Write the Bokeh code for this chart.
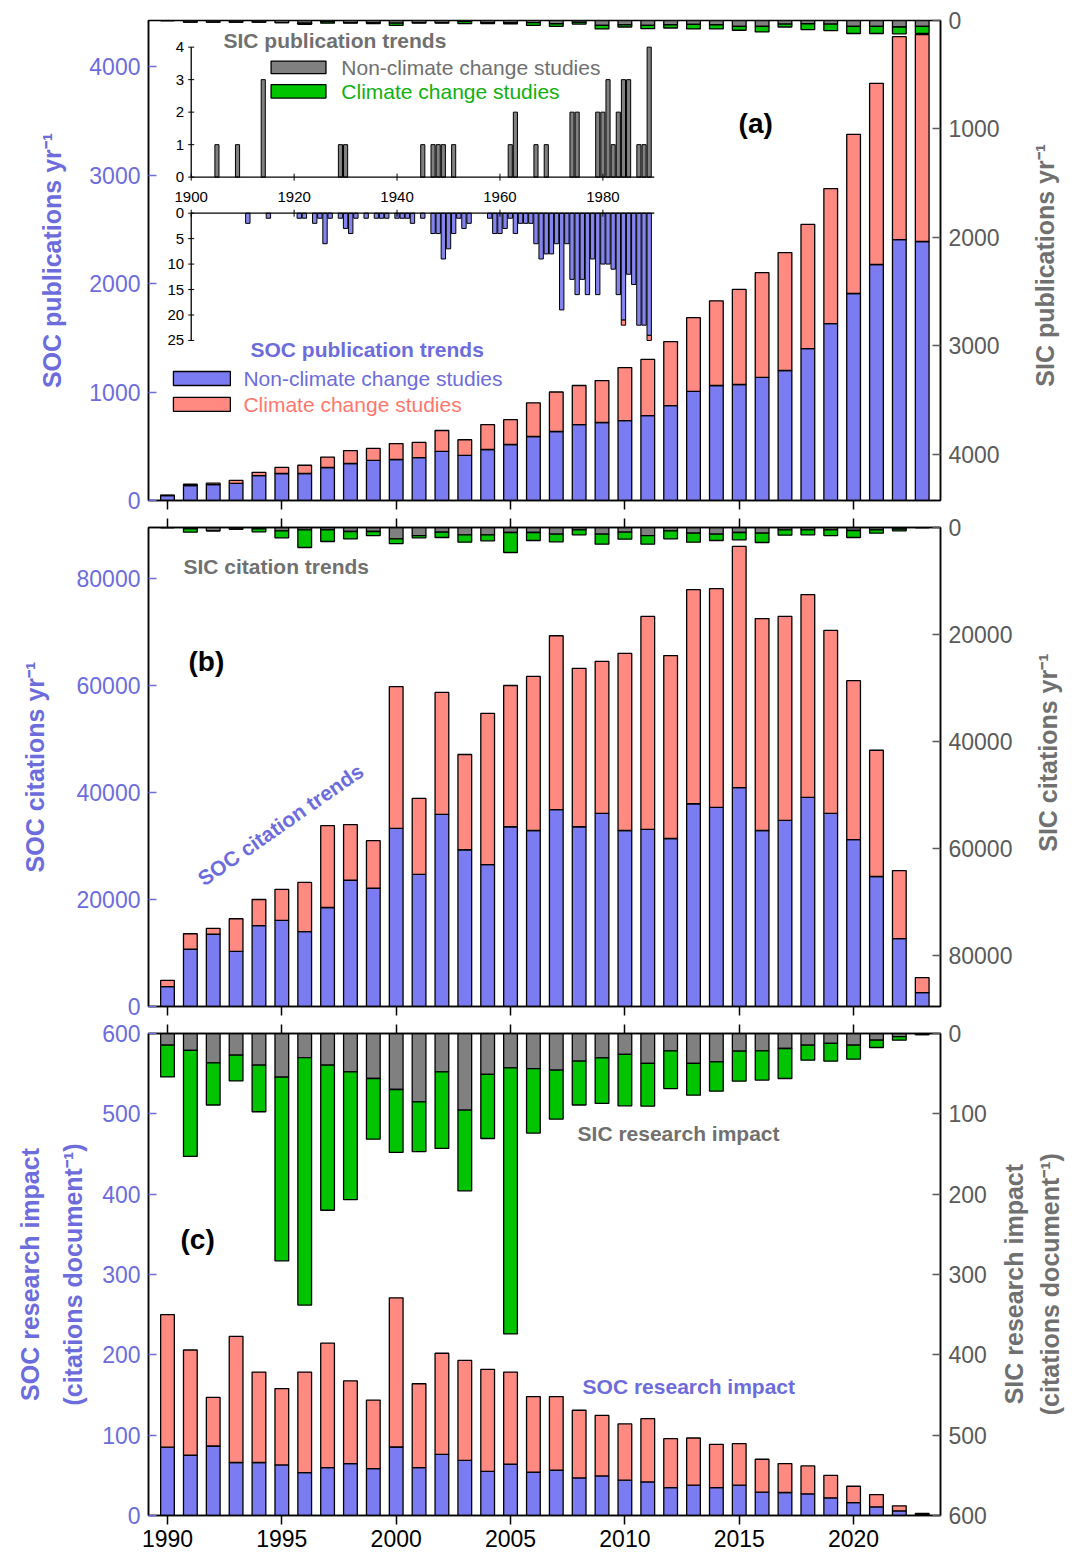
import math
from bokeh.plotting import figure
from bokeh.models import Range1d, LinearAxis, FixedTicker, Label
from bokeh.layouts import column, row
from bokeh.embed import file_html
from bokeh.resources import INLINE

FONT = "Liberation Sans"
BLUE = "#7b7bf2"
SALMON = "#ff8a82"
GRAY = "#808080"
GREEN = "#00c400"
BLUE_TXT = "#6c6cdc"
SALMON_TXT = "#ff776c"
GRAY_TXT = "#707070"
GREEN_TXT = "#10b010"
RTICK = "#5a5a5a"

# ---------------- data ----------------
years = list(range(1990, 2024))
xticks = [1990, 1995, 2000, 2005, 2010, 2015, 2020]

# (a) publications per year
soc_pub_non = [46, 138, 147, 157, 230, 249, 249, 304, 341, 369, 378, 396, 452, 415, 470, 516, 590, 636, 700, 719,
               737, 783, 875, 1005, 1060, 1069, 1134, 1198, 1400, 1631, 1908, 2175, 2405, 2387]
soc_pub_cc = [4, 12, 13, 28, 30, 56, 76, 96, 119, 111, 147, 139, 193, 145, 230, 229, 310, 364, 360, 386,
              488, 517, 590, 680, 780, 876, 966, 1087, 1145, 1244, 1467, 1670, 1870, 1908]
sic_pub_non = [0, 15, 15, 15, 15, 20, 25, 10, 20, 20, 25, 20, 20, 10, 20, 20, 20, 30, 18, 45,
               39, 45, 39, 36, 39, 54, 54, 33, 30, 33, 54, 54, 60, 54]
sic_pub_cc = [0, 0, 0, 0, 0, 0, 10, 15, 5, 8, 20, 3, 3, 18, 8, 12, 25, 24, 15, 33,
              21, 30, 30, 42, 39, 36, 51, 27, 54, 60, 66, 66, 63, 66]

# (b) citations per year
soc_cit_non = [3700, 10700, 13500, 10300, 15100, 16100, 14000, 18500, 23600, 22100, 33300, 24700, 35900, 29300,
               26500, 33600, 32900, 36800, 33600, 36100, 32900, 33100, 31400, 37900, 37200, 40900, 32900, 34800,
               39100, 36100, 31200, 24300, 12700, 2600]
soc_cit_cc = [1200, 2900, 1100, 6100, 4900, 5800, 9200, 15300, 10400, 8900, 26500, 14200, 22800, 17800,
              28300, 26400, 28800, 32500, 29600, 28400, 33100, 39800, 34200, 40000, 40900, 45100, 39600, 38100,
              37900, 34200, 29700, 23600, 12700, 2800]
sic_cit_non = [0, 250, 620, 310, 250, 620, 440, 440, 750, 750, 2120, 1500, 870, 1370, 1370, 930, 930, 1250,
               440, 1250, 870, 1500, 620, 1060, 1250, 930, 1060, 440, 440, 440, 560, 440, 310, 0]
sic_cit_cc = [0, 620, 0, 0, 560, 1310, 3300, 2180, 1370, 750, 880, 430, 1000, 1370, 1120, 3740, 1500, 1430,
              930, 1870, 1310, 1620, 1500, 1680, 1180, 1370, 1740, 990, 930, 1060, 1310, 620, 310, 0]

# (c) research impact (citations per document)
soc_imp_non = [85, 75, 86.5, 66, 66, 63, 53.4, 59.6, 64.6, 58.4, 85.3, 59.6, 76.2, 68.7, 55, 64, 54, 56.3,
               46.8, 49.3, 44, 41.8, 34.8, 37.7, 34.8, 37.7, 29, 28.6, 27, 22, 16, 10.8, 5.8, 1.5]
soc_imp_cc = [165, 131, 60.5, 157, 112.5, 95, 125.1, 154.9, 103.1, 85.3, 185.7, 104.4, 125.8, 124.3, 127,
              114.5, 94, 91.7, 84.2, 75.3, 70, 78.7, 60.8, 58.8, 53.8, 51.7, 41, 36, 34.7, 28, 20.4, 15.2, 6.2, 1.0]
sic_imp_non = [14.5, 21, 36.5, 27, 39.4, 54.4, 30, 39.4, 47.7, 56, 69.7, 85, 47.7, 95.4, 51, 42.7, 43.6, 45.6,
               34.4, 30.3, 26, 37.3, 21.6, 37.3, 35.3, 22, 21.6, 18.7, 14.5, 12.4, 14.5, 8.3, 4, 1.5]
sic_imp_cc = [39.5, 132, 52.5, 32, 58, 228.6, 308, 180.6, 159, 75.5, 78.3, 62, 95.3, 100.6, 79.7, 331.3, 80.4,
              61, 54.6, 56.7, 64, 53.2, 46.9, 39.5, 36.5, 37.3, 36.4, 37.3, 18.7, 22, 17.5, 9.1, 4.3, 0]

# inset: publications before 1990
inset_sic_years = [1905, 1909, 1914, 1929, 1930, 1945, 1947, 1948, 1949, 1951, 1962, 1963, 1967, 1969, 1974,
                   1975, 1979, 1980, 1981, 1982, 1983, 1984, 1985, 1987, 1988, 1989]
inset_sic_pubs = [1, 1, 3, 1, 1, 1, 1, 1, 1, 1, 1, 2, 1, 1, 2, 2, 2, 2, 3, 1, 2, 3, 3, 1, 1, 4]
inset_soc_years = [1911, 1915, 1921, 1922, 1924, 1925, 1926, 1927, 1929, 1930, 1931, 1932, 1934, 1936, 1937,
                   1938, 1940, 1941, 1942, 1943, 1945, 1947, 1948, 1949, 1950, 1951, 1952, 1953, 1954, 1958,
                   1959, 1960, 1961, 1962, 1963, 1964, 1965, 1966, 1967, 1968, 1969, 1970, 1971, 1972, 1973,
                   1974, 1975, 1976, 1977, 1978, 1979, 1980, 1981, 1982, 1983, 1984, 1985, 1986, 1987, 1988, 1989]
inset_soc_non = [2, 1, 1, 1, 2, 1, 6, 1, 1, 3, 4, 1, 1, 1, 1, 1, 1, 1, 1, 2, 1, 4, 4, 9, 7, 4, 1, 3, 2, 1,
                 4, 4, 3, 1, 4, 2, 2, 2, 6, 9, 8, 8, 6, 19, 6, 13, 16, 13, 16, 9, 16, 10, 10, 11, 16, 21, 12,
                 14, 22, 22, 24]
inset_soc_cc_years = [1984, 1989]
inset_soc_cc = [1, 1]
inset_xticks = [1900, 1920, 1940, 1960, 1980]
inset_xlim = [1900, 1990]
inset_top_yticks = [0, 1, 2, 3, 4]
inset_bot_yticks = [0, 5, 10, 15, 20, 25]

pub_ticks = [0, 1000, 2000, 3000, 4000]
cit_ticks = [0, 20000, 40000, 60000, 80000]
imp_ticks = [0, 100, 200, 300, 400, 500, 600]

XR = (1989.17, 2023.8)
PUB_TOP = 4424      # frame height 480 px at 108.5 px per 1000
CIT_TOP = 89530     # frame height 479 px at 5.35 px per 1000
PAGE_W = 1071


# ---------------- helpers ----------------
def base_fig(frame_h, top, bottom, yr, right):
    p = figure(frame_width=792, frame_height=frame_h, x_range=Range1d(*XR), y_range=yr,
               output_backend="svg", toolbar_location=None,
               min_border_left=148, min_border_right=right, min_border_top=top, min_border_bottom=bottom)
    p.xgrid.visible = False
    p.ygrid.visible = False
    p.outline_line_color = "black"
    p.outline_line_width = 1.5
    p.outline_line_alpha = 1
    return p


def title_strip(main, frame_h, top, bottom, right, title, xpos, ypos=0.5, line_height=1.45):
    """Narrow strip to the right of a panel holding its right-hand axis title (reads bottom-to-top)."""
    w = PAGE_W - (148 + 792 + right)
    q = figure(frame_width=w, frame_height=frame_h, x_range=Range1d(0, 1), y_range=Range1d(0, 1),
               output_backend="svg", toolbar_location=None, x_axis_location=None, y_axis_location=None,
               min_border_left=0, min_border_right=0, min_border_top=top, min_border_bottom=bottom)
    q.xgrid.visible = False
    q.ygrid.visible = False
    q.outline_line_color = None
    q.add_layout(Label(x=xpos, y=ypos, text=title, text_color=GRAY_TXT, text_font=FONT, text_font_size="25px",
                       text_font_style="bold", text_align="center", text_baseline="middle", angle=math.pi / 2,
                       text_line_height=line_height))
    return row(main, q, spacing=0)


def style_y(ax, ticks, lbl_color, tick_color, label=None, standoff=0, line_height=1.35):
    ax.ticker = FixedTicker(ticks=ticks)
    ax.major_tick_in = 8
    ax.major_tick_out = 0
    ax.minor_tick_line_color = None
    ax.major_tick_line_color = tick_color
    ax.major_tick_line_width = 1.5
    ax.axis_line_color = "black"
    ax.axis_line_width = 1.5
    ax.major_label_text_font = FONT
    ax.major_label_text_font_size = "23px"
    ax.major_label_text_color = lbl_color
    ax.major_label_standoff = 8
    if label:
        ax.axis_label = label
        ax.axis_label_text_font = FONT
        ax.axis_label_text_font_size = "25px"
        ax.axis_label_text_font_style = "bold"
        ax.axis_label_text_color = lbl_color
        ax.axis_label_standoff = standoff
        ax.axis_label_text_line_height = line_height


def style_x(ax, show_labels):
    ax.ticker = FixedTicker(ticks=xticks)
    ax.major_tick_in = 0
    ax.major_tick_out = 9
    ax.minor_tick_line_color = None
    ax.major_tick_line_color = "black"
    ax.major_tick_line_width = 1.5
    ax.axis_line_color = "black"
    ax.axis_line_width = 1.5
    ax.major_label_text_font = FONT
    ax.major_label_text_font_size = "23px"
    ax.major_label_text_color = "black"
    if show_labels:
        ax.major_label_standoff = 5
    else:
        ax.major_label_overrides = {t: "" for t in xticks}
        ax.major_label_standoff = 0


def label(p, x, y, text, color, size, bold=True, align="left", angle=0.0, **kw):
    p.add_layout(Label(x=x, y=y, text=text, text_color=color, text_font=FONT, text_font_size=size,
                       text_font_style="bold" if bold else "normal", text_align=align,
                       text_baseline="middle", angle=angle, **kw))


def right_axis(p, name, ticks):
    ax = LinearAxis(y_range_name=name)
    style_y(ax, ticks, RTICK, RTICK)
    p.add_layout(ax, "right")
    return ax


def stacked(p, xs, a, b, c1, c2, yname="default", width=0.6, lw=1.3):
    tops = [u + v for u, v in zip(a, b)]
    p.vbar(x=xs, bottom=0, top=a, width=width, fill_color=c1, line_color="black", line_width=lw,
           y_range_name=yname)
    p.vbar(x=xs, bottom=a, top=tops, width=width, fill_color=c2, line_color="black", line_width=lw,
           y_range_name=yname)


# ---------------- panel (a) ----------------
A_H, A_T, A_B, A_R = 480, 20, 14, 70
p1 = base_fig(A_H, A_T, A_B, Range1d(0, PUB_TOP), A_R)
p1.extra_y_ranges = {"sic": Range1d(start=PUB_TOP, end=0),
                     "iyt": Range1d(-9.95, 4.82),
                     "iyb": Range1d(start=56.43, end=-37.84)}
p1.extra_x_ranges = {"ix": Range1d(1891.70, 2045.61)}
style_y(p1.yaxis[0], pub_ticks, BLUE_TXT, BLUE_TXT, "SOC publications yr⁻¹", 20)
style_x(p1.xaxis[0], False)
right_axis(p1, "sic", pub_ticks)

stacked(p1, years, soc_pub_non, soc_pub_cc, BLUE, SALMON)
stacked(p1, years, sic_pub_non, sic_pub_cc, GRAY, GREEN, yname="sic")

# inset bars
p1.vbar(x=inset_sic_years, bottom=0, top=inset_sic_pubs, width=0.8, fill_color=GRAY, line_color="black",
        line_width=1, x_range_name="ix", y_range_name="iyt")
p1.vbar(x=inset_soc_years, bottom=0, top=inset_soc_non, width=0.85, fill_color="#8484ee", line_color="black",
        line_width=1, x_range_name="ix", y_range_name="iyb")
cc_bottom = [inset_soc_non[inset_soc_years.index(y)] for y in inset_soc_cc_years]
cc_top = [b + c for b, c in zip(cc_bottom, inset_soc_cc)]
p1.vbar(x=inset_soc_cc_years, bottom=cc_bottom, top=cc_top, width=0.85, fill_color=SALMON, line_color="black",
        line_width=1, x_range_name="ix", y_range_name="iyb")

# inset axes
for yname, yt in (("iyt", inset_top_yticks), ("iyb", inset_bot_yticks)):
    p1.segment(x0=[inset_xlim[0]], y0=[min(yt)], x1=[inset_xlim[0]], y1=[max(yt)], line_color="black",
               line_width=1.3, x_range_name="ix", y_range_name=yname)
    p1.segment(x0=[inset_xlim[0]], y0=[0], x1=[inset_xlim[1]], y1=[0], line_color="black",
               line_width=1.3, x_range_name="ix", y_range_name=yname)
    p1.scatter(x=[inset_xlim[0]] * len(yt), y=yt, marker="dash", size=6, line_color="black", line_width=1,
               x_range_name="ix", y_range_name=yname)
    p1.scatter(x=inset_xticks, y=[0] * len(inset_xticks), marker="dash", angle=math.pi / 2, size=7,
               line_color="black", line_width=1, x_range_name="ix", y_range_name=yname)
    p1.text(x=[inset_xlim[0]] * len(yt), y=yt, text=[str(v) for v in yt], x_offset=-7, text_align="right",
            text_baseline="middle", text_font={"value": FONT}, text_font_size="15px", text_color="black",
            x_range_name="ix", y_range_name=yname)
p1.text(x=inset_xticks, y=[0] * len(inset_xticks), text=[str(v) for v in inset_xticks], y_offset=20,
        text_align="center", text_baseline="middle", text_font={"value": FONT}, text_font_size="15px",
        text_color="black", x_range_name="ix", y_range_name="iyt")

# inset title and legend
label(p1, 1992.45, 4240, "SIC publication trends", GRAY_TXT, "21px")
p1.quad(left=[1994.53, 1994.53], right=[1996.93, 1996.93], top=[4050, 3833], bottom=[3934, 3709],
        fill_color=[GRAY, GREEN], line_color="black", line_width=1.3)
label(p1, 1997.6, 3992, "Non-climate change studies", GRAY_TXT, "21px", bold=False)
label(p1, 1997.6, 3771, "Climate change studies", GREEN_TXT, "21px", bold=False)

# main legend
label(p1, 1993.63, 1392, "SOC publication trends", BLUE_TXT, "21px")
p1.quad(left=[1990.26, 1990.26], right=[1992.75, 1992.75], top=[1189, 950], bottom=[1060, 821],
        fill_color=[BLUE, SALMON], line_color="black", line_width=1.3)
label(p1, 1993.32, 1125, "Non-climate change studies", BLUE_TXT, "21px", bold=False)
label(p1, 1993.32, 885, "Climate change studies", SALMON_TXT, "21px", bold=False)
label(p1, 2014.97, 3475, "(a)", "black", "28px")

row1 = title_strip(p1, A_H, A_T, A_B, A_R, "SIC publications yr⁻¹", 0.57, 0.49)

# ---------------- panel (b) ----------------
B_H, B_T, B_B, B_R = 479, 13, 13, 76
p2 = base_fig(B_H, B_T, B_B, Range1d(0, CIT_TOP), B_R)
p2.extra_y_ranges = {"sic": Range1d(start=CIT_TOP, end=0)}
style_y(p2.yaxis[0], cit_ticks, BLUE_TXT, BLUE_TXT, "SOC citations yr⁻¹", 25)
style_x(p2.xaxis[0], False)
ax_top2 = LinearAxis()
style_x(ax_top2, False)
p2.add_layout(ax_top2, "above")
right_axis(p2, "sic", cit_ticks)

stacked(p2, years, soc_cit_non, soc_cit_cc, BLUE, SALMON)
stacked(p2, years, sic_cit_non, sic_cit_cc, GRAY, GREEN, yname="sic")

label(p2, 1990.70, 82240, "SIC citation trends", GRAY_TXT, "21px")
label(p2, 1990.92, 64490, "(b)", "black", "28px")
label(p2, 1994.94, 34000, "SOC citation trends", BLUE_TXT, "21px", align="center", angle=0.607)

row2 = title_strip(p2, B_H, B_T, B_B, B_R, "SIC citations yr⁻¹", 0.58, 0.53)

# ---------------- panel (c) ----------------
C_H, C_T, C_B, C_R = 482, 14, 40, 52
p3 = base_fig(C_H, C_T, C_B, Range1d(0, 600), C_R)
p3.extra_y_ranges = {"sic": Range1d(start=600, end=0)}
style_y(p3.yaxis[0], imp_ticks, BLUE_TXT, BLUE_TXT, "SOC research impact\n(citations document⁻¹)", 12, 1.55)
style_x(p3.xaxis[0], True)
ax_top3 = LinearAxis()
style_x(ax_top3, False)
p3.add_layout(ax_top3, "above")
right_axis(p3, "sic", imp_ticks)

stacked(p3, years, soc_imp_non, soc_imp_cc, BLUE, SALMON)
stacked(p3, years, sic_imp_non, sic_imp_cc, GRAY, GREEN, yname="sic")

label(p3, 1990.57, 343, "(c)", "black", "28px")
label(p3, 2007.93, 475, "SIC research impact", GRAY_TXT, "21px")
label(p3, 2008.15, 160, "SOC research impact", BLUE_TXT, "21px")

row3 = title_strip(p3, C_H, C_T, C_B, C_R, "SIC research impact\n(citations document⁻¹)", 0.5, 0.48,
                   line_height=1.3)

layout = column(row1, row2, row3, spacing=0)
open("out.html", "w").write(file_html(layout, INLINE))
